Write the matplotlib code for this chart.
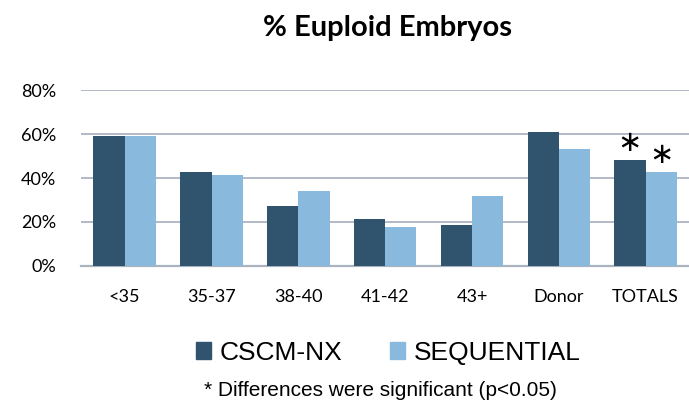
import numpy as np
import matplotlib
matplotlib.use("Agg")
import matplotlib.pyplot as plt
from matplotlib.patches import Patch

categorias = ["<35", "35-37", "38-40", "41-42", "43+", "Donor", "TOTALS"]
cscm_nx = [59.2, 42.8, 27.3, 21.4, 18.7, 61.0, 48.3]
sequencial = [59.2, 41.5, 34.2, 17.8, 31.9, 53.3, 42.8]
yticks = [0, 20, 40, 60, 80]

COR_ESCURA = "#30546e"
COR_CLARA = "#89b9dd"
COR_GRADE = "#aab4c1"

fig = plt.figure(figsize=(6.89, 4.01), dpi=100)
ax = fig.add_axes([0.118, 0.337, 0.882, 0.4377])

x = np.arange(len(categorias))
w = 0.36
ax.bar(x - w / 2, cscm_nx, w, color=COR_ESCURA, zorder=3)
ax.bar(x + w / 2, sequencial, w, color=COR_CLARA, zorder=3)

# asteriscos de significância no grupo TOTALS
i = len(categorias) - 1
for xx, val in [(x[i] - w / 2, cscm_nx[i]), (x[i] + w / 2, sequencial[i])]:
    ax.annotate("\u2217", xy=(xx, val), xytext=(0, 12), textcoords="offset points",
                ha="center", va="center", fontsize=21, family="DejaVu Sans")

ax.set_xlim(-0.5, len(categorias) - 0.5)
ax.set_ylim(0, 80)
ax.set_yticks(yticks)
ax.set_yticklabels([f"{v}%" for v in yticks], family="Lato", fontsize=13)
ax.set_xticks(x)
ax.set_xticklabels(categorias, family="Lato", fontsize=13)
ax.tick_params(axis="both", length=0)
ax.tick_params(axis="y", pad=18)
ax.tick_params(axis="x", pad=17)

ax.grid(axis="y", color=COR_GRADE, linewidth=1.3, zorder=0)
for s in ["top", "right", "left"]:
    ax.spines[s].set_visible(False)
ax.spines["bottom"].set_color(COR_GRADE)
ax.spines["bottom"].set_linewidth(1.6)

fig.text(0.562, 0.93, "% Euploid Embryos", ha="center", va="center",
         family="Lato", fontweight="bold", fontsize=21)

handles = [Patch(color=COR_ESCURA, label="CSCM-NX"),
           Patch(color=COR_CLARA, label="SEQUENTIAL")]
fig.legend(handles=handles, loc="center", bbox_to_anchor=(0.563, 0.12), ncol=2,
           frameon=False, prop={"family": "Liberation Sans", "size": 19},
           handlelength=0.6, handleheight=0.6, handletextpad=0.3,
           columnspacing=1.8)

fig.text(0.552, 0.027, "* Differences were significant (p<0.05)", ha="center",
         va="center", family="Liberation Sans", fontsize=15)

fig.savefig("out.png", dpi=100)
